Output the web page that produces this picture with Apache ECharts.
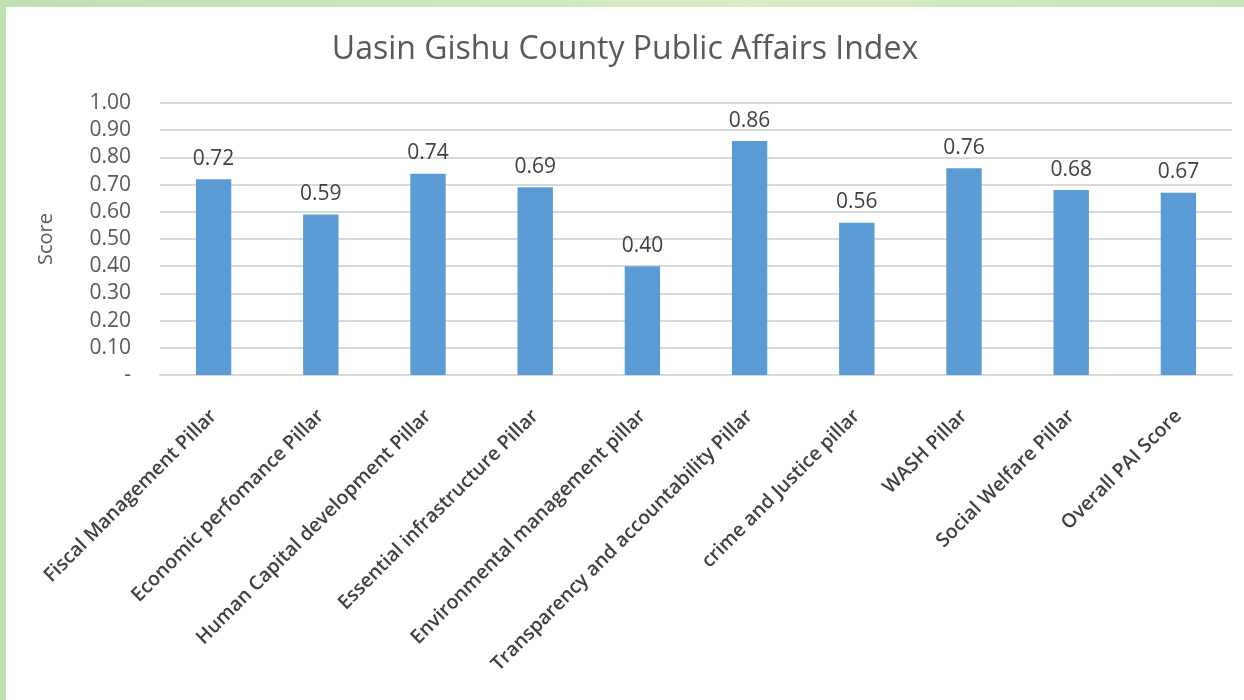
<!DOCTYPE html>
<html>
<head>
<meta charset="utf-8">
<script src="https://cdn.jsdelivr.net/npm/echarts@6/dist/echarts.min.js"></script>
<style>
html,body{margin:0;padding:0;width:1244px;height:700px;overflow:hidden;}
body{background:linear-gradient(90deg,#bfe0b2 0%,#cfe8c0 40%,#d6ebc6 60%,#c9e5b9 100%);}
#chart{position:absolute;left:6px;top:7px;width:1238px;height:693px;background:#fff;}
</style>
</head>
<body>
<div id="chart"></div>
<script>
const categories = [
  "Fiscal Management Pillar",
  "Economic perfomance Pillar",
  "Human Capital development Pillar",
  "Essential infrastructure Pillar",
  "Environmental management pillar",
  "Transparency and accountability Pillar",
  "crime and Justice pillar",
  "WASH Pillar",
  "Social Welfare Pillar",
  "Overall PAI Score"
];
const scores = [0.72, 0.59, 0.74, 0.69, 0.40, 0.86, 0.56, 0.76, 0.68, 0.67];
const yTicks = { min: 0, max: 1, interval: 0.1 };

const chart = echarts.init(document.getElementById('chart'));
const fam = '"Open Sans", "Noto Sans", sans-serif';
chart.setOption({
  animation: false,
  title: {
    text: 'Uasin Gishu County Public Affairs Index',
    left: 'center',
    top: 22,
    textStyle: { fontFamily: fam, fontSize: 32, fontWeight: 'normal', color: '#595959' }
  },
  grid: { left: 154, right: 12, top: 96, bottom: 325 },
  xAxis: {
    type: 'category',
    data: categories,
    axisTick: { show: false },
    axisLine: { lineStyle: { color: '#d9d9d9', width: 2 } },
    axisLabel: {
      rotate: 45, interval: 0, margin: 38,
      fontFamily: fam, fontSize: 19.5, fontWeight: 600, color: '#404040'
    }
  },
  yAxis: {
    type: 'value',
    min: yTicks.min, max: yTicks.max, interval: yTicks.interval,
    name: 'Score',
    nameLocation: 'middle',
    nameGap: 104,
    nameRotate: 90,
    nameTextStyle: { fontFamily: fam, fontSize: 20, color: '#595959' },
    axisLine: { show: false },
    axisTick: { show: false },
    splitLine: { lineStyle: { color: '#d9d9d9', width: 2 } },
    axisLabel: {
      fontFamily: fam, fontSize: 21, color: '#595959', margin: 29,
      formatter: v => (Math.abs(v) < 1e-9 ? '-' : v.toFixed(2))
    }
  },
  series: [{
    type: 'bar',
    data: scores,
    barWidth: '33%',
    itemStyle: { color: '#5b9bd5' },
    label: {
      show: true, position: 'top', distance: 10,
      fontFamily: fam, fontSize: 21, color: '#404040',
      formatter: p => p.value.toFixed(2)
    }
  }]
});
</script>
</body>
</html>
